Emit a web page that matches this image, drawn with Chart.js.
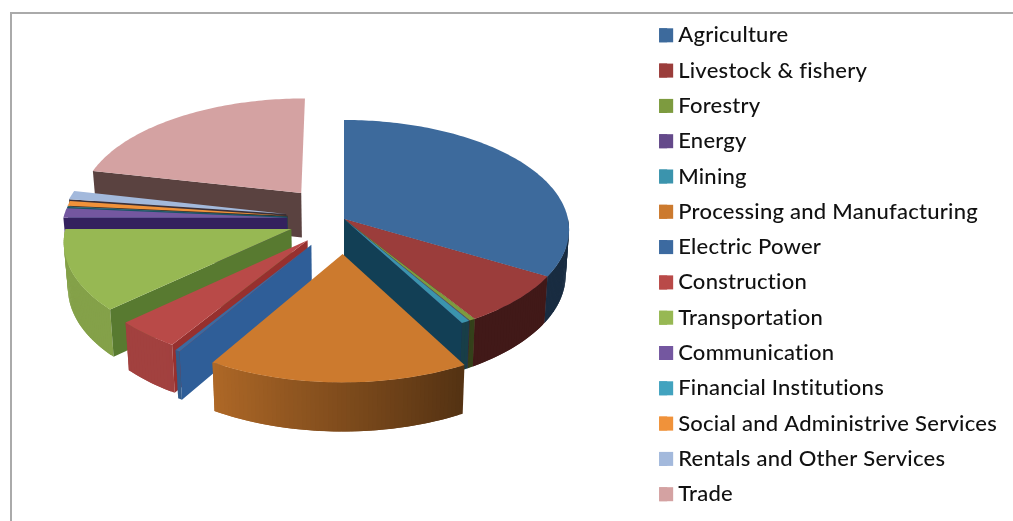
<!DOCTYPE html>
<html>
<head>
<meta charset="utf-8">
<style>
  html, body { margin: 0; background: #fff; overflow: hidden; }
  #frame { position: absolute; left: 10px; top: 12px; right: 0; bottom: 0; border-left: 2px solid #aaa; border-top: 2px solid #aaa; }
  #sectors { position: absolute; left: 0; top: 0; }
</style>
</head>
<body>
<div id="frame"></div>
<canvas id="sectors" width="1013" height="521"></canvas>
<script src="https://cdn.jsdelivr.net/npm/chart.js@4"></script>
<script>
const categories = ['Agriculture', 'Livestock & fishery', 'Forestry', 'Energy', 'Mining',
  'Processing and Manufacturing', 'Electric Power', 'Construction', 'Transportation', 'Communication',
  'Financial Institutions', 'Social and Administrive Services', 'Rentals and Other Services', 'Trade'];
const shares = [33.4, 7.6, 0.4, 0.05, 0.55, 16.6, 0.3, 4.2, 11.9, 1.4, 0.1, 0.7, 1.3, 21.5];

const topColors = ['#3d6a9c', '#9b3d3b', '#7d9b3f', '#64498a', '#3b94ad', '#cc7a2e', '#3c6aa0',
  '#b94a48', '#97b853', '#7457a0', '#42a3bf', '#f0923a', '#a3b9dc', '#d4a2a2'];
const sideColors = ['#14304f', '#4a1513', '#4a5c20', '#34215e', '#123f55', '#5e3812', '#2f5e98',
  '#97302e', '#587a30', '#34215e', '#1a5566', '#3a2a1e', '#3a3038', '#5a4240'];
const explode = [0, 0, 0, 0, 0, 70, 61, 56, 56, 57, 57, 57, 59, 70];

// tilted view of the pie
const view = { x: 344, y: 219, tilt: 0.485, persp: 0.097, radius: 224, height: 45, shrink: 0.985 };
const swatch = 14;

function project(u, v, low) {
  const s = 1 / (1 - view.persp * v / view.radius);
  const k = low ? view.shrink : 1;
  return {
    x: view.x + u * s * k,
    y: view.y + view.tilt * v * s * k + (low ? view.height * s : 0)
  };
}

function shade(hex, f) {
  const n = parseInt(hex.slice(1), 16);
  return `rgb(${(n >> 16) * f | 0},${((n >> 8) & 255) * f | 0},${(n & 255) * f | 0})`;
}

function fillPoly(ctx, pts, color) {
  ctx.beginPath();
  pts.forEach((p, i) => i ? ctx.lineTo(p.x, p.y) : ctx.moveTo(p.x, p.y));
  ctx.closePath();
  ctx.fillStyle = color;
  ctx.fill();
}

// the rim gets darker going round from the left side to the right side
function rimFactor(a) {
  const deg = ((a + Math.PI / 2) * 180 / Math.PI + 360) % 360;
  return Math.min(0.88, Math.max(0.42, 0.625 + 0.0075 * (deg - 180)));
}

function drawSector(ctx, arc, i) {
  const mid = (arc.startAngle + arc.endAngle) / 2;
  const off = arc.options.offset || 0;
  const ox = Math.cos(mid) * off, oy = Math.sin(mid) * off;
  const r = arc.outerRadius;
  const at = (a, low) => project(ox + Math.cos(a) * r, oy + Math.sin(a) * r, low);
  const apex = low => project(ox, oy, low);

  // outer wall, only the part facing the viewer; each strip overlaps the next to hide seams
  const step = Math.PI / 180;
  for (let a = arc.startAngle; a < arc.endAngle; a += step) {
    const b = Math.min(a + step, arc.endAngle);
    const c = Math.min(b + step, arc.endAngle);
    if (Math.sin((a + b) / 2) < 0) continue;
    fillPoly(ctx, [at(a), at(c), at(c, true), at(a, true)], shade(topColors[i], rimFactor((a + b) / 2)));
  }

  // cut walls
  if (Math.cos(arc.startAngle) < 0) {
    fillPoly(ctx, [apex(), at(arc.startAngle), at(arc.startAngle, true), apex(true)], sideColors[i]);
  }
  if (Math.cos(arc.endAngle) > 0) {
    fillPoly(ctx, [apex(), at(arc.endAngle), at(arc.endAngle, true), apex(true)], sideColors[i]);
  }

  // top face
  const top = [apex()];
  for (let a = arc.startAngle; a < arc.endAngle; a += step) top.push(at(a));
  top.push(at(arc.endAngle));
  fillPoly(ctx, top, arc.options.backgroundColor);
}

const pie3d = {
  id: 'pie3d',
  beforeDraw(chart) {
    // also turns off the Lato ti/fi ligatures
    chart.ctx.letterSpacing = '0.25px';
  },
  beforeDatasetDraw(chart, args) {
    const ctx = chart.ctx;
    const depth = arc => {
      const mid = (arc.startAngle + arc.endAngle) / 2;
      return Math.sin(mid) * ((arc.options.offset || 0) + arc.outerRadius / 2);
    };
    // far sectors first
    args.meta.data
      .map((arc, i) => ({ arc, i }))
      .sort((p, q) => depth(p.arc) - depth(q.arc))
      .forEach(({ arc, i }) => drawSector(ctx, arc, i));
    return false;
  },
  afterDraw(chart) {
    // legend swatches sit closer to their text than boxWidth allows
    const ctx = chart.ctx;
    chart.legend.legendHitBoxes.forEach((hit, i) => {
      ctx.fillStyle = topColors[i];
      ctx.fillRect(hit.left, hit.top + (hit.height - swatch) / 2, swatch, swatch);
    });
  }
};

new Chart(document.getElementById('sectors'), {
  type: 'pie',
  data: {
    labels: categories,
    datasets: [{ data: shares, backgroundColor: topColors, offset: explode, borderWidth: 0 }]
  },
  options: {
    responsive: false,
    animation: false,
    radius: view.radius,
    layout: { padding: { top: 11, right: 14 } },
    plugins: {
      tooltip: { enabled: false },
      legend: {
        position: 'right',
        align: 'start',
        labels: {
          boxWidth: 8,
          boxHeight: swatch,
          padding: 13.3,
          color: '#111',
          font: { family: 'Lato', size: 22, weight: '500' }
        }
      }
    }
  },
  plugins: [pie3d]
});
</script>
</body>
</html>
